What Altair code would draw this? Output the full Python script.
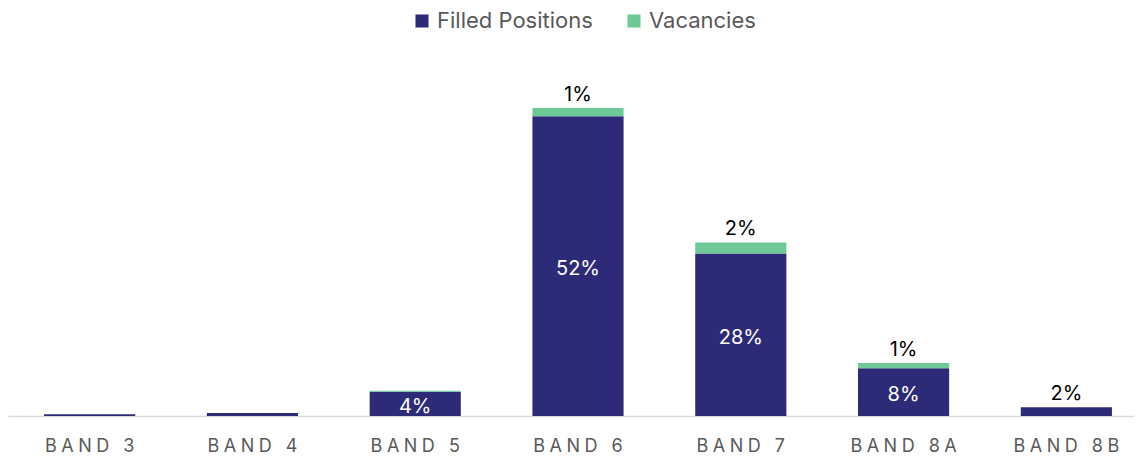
import altair as alt
import pandas as pd

bands = ["BAND 3", "BAND 4", "BAND 5", "BAND 6", "BAND 7", "BAND 8A", "BAND 8B"]
filled = [0.3, 0.5, 4.2, 52.0, 28.2, 8.3, 1.5]
vacancies = [0.0, 0.0, 0.2, 1.4, 1.9, 0.9, 0.0]
filled_labels = ["", "", "4%", "52%", "28%", "8%", ""]
top_labels = ["", "", "", "1%", "2%", "1%", "2%"]

series = ["Filled Positions", "Vacancies"]
colors = ["#2d2a78", "#6dca97"]
FONT = "Inter"

rows = []
for b, f, v in zip(bands, filled, vacancies):
    rows.append({"band": b, "series": series[0], "value": f, "ord": 0})
    rows.append({"band": b, "series": series[1], "value": v, "ord": 1})
long_df = pd.DataFrame(rows)

lab_df = pd.DataFrame({
    "band": bands,
    "filled": filled,
    "total": [f + v for f, v in zip(filled, vacancies)],
    "flabel": filled_labels,
    "tlabel": top_labels,
})

x_scale = alt.Scale(align=0.5625)
x_enc = alt.X("band:N", sort=bands, title=None, scale=x_scale,
              axis=alt.Axis(labelAngle=0, ticks=False, domainColor="#d9d9d9",
                            domainWidth=1.5, labelColor="#595959",
                            labelFontSize=18, labelFont=FONT, labelPadding=21,
                            labelExpr="join(split(datum.label, ''), '\u2005')",
                            grid=False))
y_scale = alt.Scale(domain=[0, 60.7])

bars = alt.Chart(long_df).mark_bar().encode(
    x=x_enc,
    y=alt.Y("value:Q", stack="zero", scale=y_scale, axis=None),
    color=alt.Color("series:N", scale=alt.Scale(domain=series, range=colors),
                    legend=alt.Legend(title=None, orient="none", legendX=403,
                                      legendY=-56, direction="horizontal",
                                      symbolType="square", symbolSize=170,
                                      symbolStrokeWidth=0,
                                      labelFontSize=22, labelFont=FONT,
                                      labelColor="#595959", columnPadding=30,
                                      labelLimit=300, symbolOffset=0)),
    order=alt.Order("ord:Q"),
)

base = alt.Chart(lab_df).transform_calculate(mid="datum.filled / 2")

inner = base.mark_text(color="white", fontSize=20, font=FONT, baseline="middle", dy=3).encode(
    x=alt.X("band:N", sort=bands, scale=x_scale),
    y=alt.Y("mid:Q", scale=y_scale),
    text="flabel:N",
)

top = base.mark_text(color="black", fontSize=20, font=FONT, baseline="bottom", dy=-3).encode(
    x=alt.X("band:N", sort=bands, scale=x_scale),
    y=alt.Y("total:Q", scale=y_scale),
    text="tlabel:N",
)

chart = alt.layer(bars, inner, top).properties(
    width=1132, height=350,
    padding={"left": 0, "top": 2, "right": -6, "bottom": 0},
).configure(
    background="white",
    view=alt.ViewConfig(stroke=None, strokeWidth=0),
    scale=alt.ScaleConfig(bandPaddingInner=0.44, bandPaddingOuter=0.197),
)

chart.save("out.html", embed_options={"renderer": "svg", "actions": False})
